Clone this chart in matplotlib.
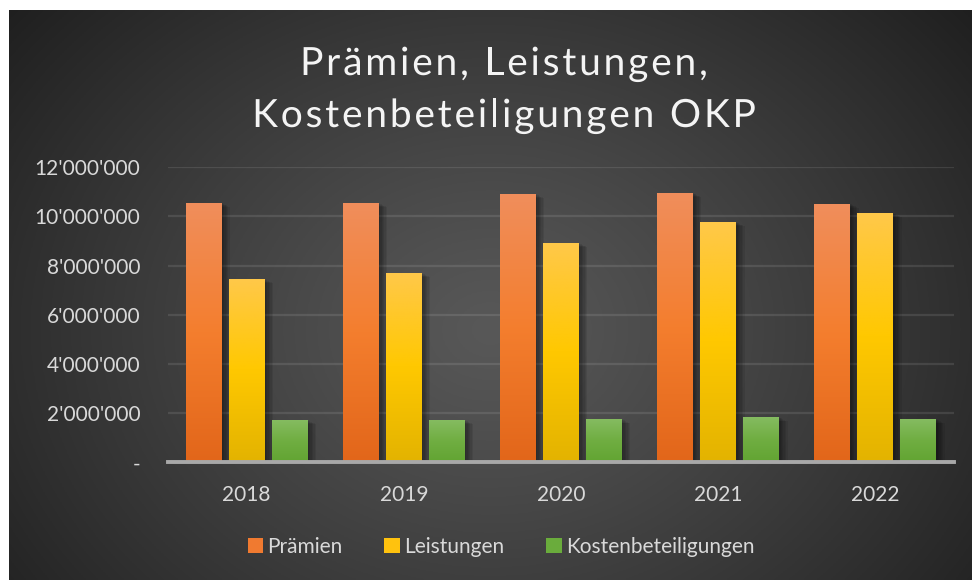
import numpy as np
import matplotlib
matplotlib.use("Agg")
import matplotlib.pyplot as plt
from matplotlib.colors import LinearSegmentedColormap
from matplotlib.ticker import FuncFormatter
from matplotlib.patches import Patch
import matplotlib.patheffects as pe

# data
years = ["2018", "2019", "2020", "2021", "2022"]
praemien = [10.56e6, 10.55e6, 10.92e6, 10.96e6, 10.52e6]
leistungen = [7.46e6, 7.70e6, 8.92e6, 9.78e6, 10.14e6]
kosten = [1.72e6, 1.72e6, 1.76e6, 1.84e6, 1.76e6]
series_names = ["Prämien", "Leistungen", "Kostenbeteiligungen"]
yticks = [0, 2e6, 4e6, 6e6, 8e6, 10e6, 12e6]
title_lines = ["Prämien, Leistungen,", "Kostenbeteiligungen OKP"]

# gradient stops per series: bottom, middle, top
grad_colors = [
    ["#e2661a", "#f47e2e", "#f08e5c"],
    ["#e3b300", "#ffc800", "#ffc84a"],
    ["#62a432", "#70ae42", "#86bc62"],
]
legend_colors = ["#f07a30", "#ffc20e", "#6aac3c"]

plt.rcParams['font.family'] = ['Lato', 'DejaVu Sans']
W, H = 972, 580
fig = plt.figure(figsize=(W / 100, H / 100), dpi=100)
fig.patch.set_facecolor("white")

# radial gradient background (chart area, white strip on top/left)
bg = fig.add_axes([9 / W, 0, (W - 9) / W, (H - 10) / H])
bg.set_axis_off()
gx = np.linspace(9, W, 400)
gy = np.linspace(10, H, 240)
GX, GY = np.meshgrid(gx, gy)
u = (GX - 490) / 520
v = (GY - 330) / 420
r = np.clip(np.sqrt(u ** 2 + v ** 2), 0, 1.2)
val = (88 - 46 * r ** 1.15) / 255.0
bg.imshow(np.dstack([val, val, val]), extent=[0, 1, 0, 1], aspect="auto", origin="upper")
bg.set_xlim(0, 1)
bg.set_ylim(0, 1)
bg.set_zorder(0)

ax = fig.add_axes([168 / W, (H - 462.3) / H, (954 - 168) / W, (462.3 - 167.3) / H])
ax.set_zorder(1)
ax.patch.set_alpha(0)

# soft shadow: several offset layers with low alpha
shadow_fx = [pe.SimplePatchShadow(offset=(o, -o * 0.5), shadow_rgbFace="black", alpha=0.08)
             for o in (1, 2, 3, 4, 5, 6)] + [pe.Normal()]

x = np.arange(len(years))
bw = 0.229
step = 0.274
all_series = [praemien, leistungen, kosten]
for i, vals in enumerate(all_series):
    cmap = LinearSegmentedColormap.from_list("g%d" % i, grad_colors[i])
    grad = np.linspace(0, 1, 256).reshape(-1, 1)
    bars = ax.bar(x + (i - 1) * step, vals, bw, color=grad_colors[i][1], zorder=3,
                  path_effects=shadow_fx)
    for b in bars:
        x0, w, h = b.get_x(), b.get_width(), b.get_height()
        im = ax.imshow(grad, cmap=cmap, origin="lower", aspect="auto",
                       extent=[x0, x0 + w, 0, h], zorder=4)
        im.set_clip_path(b)

ax.set_xlim(-0.5, len(years) - 0.5)
ax.set_ylim(0, 12e6)
ax.set_yticks(yticks)
ax.set_xticks(x)
ax.set_xticklabels(years)


def fmt(val, pos):
    if val == 0:
        return "-"
    return "{:,.0f}".format(val).replace(",", "'")


ax.yaxis.set_major_formatter(FuncFormatter(fmt))
ax.tick_params(axis="both", length=0, colors="#d9d9d9", labelsize=15)
ax.tick_params(axis="y", pad=20)
ax.tick_params(axis="x", pad=16)
for s in ax.spines.values():
    s.set_visible(False)
ax.grid(axis="y", color="#ffffff", alpha=0.1, linewidth=1.6, zorder=1)
ax.set_axisbelow(True)
ax.axhline(0, color="#a8a8a8", linewidth=2.8, zorder=5, clip_on=False)

# title with letter spacing, drawn char by char
renderer = fig.canvas.get_renderer()
title_size = 28
title_kw = dict(fontsize=title_size, color="#f4f4f4",
                path_effects=[pe.SimpleLineShadow(offset=(1.5, -1.5), alpha=0.6), pe.Normal()])
tracking = 2.8  # px between letters


def text_width(s):
    if not s:
        return 0.0
    t = fig.text(0, 0, s + "|", fontsize=title_size)
    w1 = t.get_window_extent(renderer).width
    t.set_text("|")
    w2 = t.get_window_extent(renderer).width
    t.remove()
    return w1 - w2


for line, yb in zip(title_lines, [75, 127]):
    total = text_width(line) + tracking * (len(line) - 1)
    x_start = 504 - total / 2
    for k, ch in enumerate(line):
        if ch == " ":
            continue
        xp = x_start + text_width(line[:k]) + tracking * k
        fig.text(xp / W, 1 - yb / H, ch, ha="left", va="baseline", **title_kw)

handles = [Patch(facecolor=c, edgecolor="none") for c in legend_colors]
leg = fig.legend(handles, series_names, loc="center", bbox_to_anchor=(501 / W, 1 - 547 / H),
                 ncol=3, frameon=False, fontsize=15, handlelength=0.75, handleheight=0.75,
                 handletextpad=0.2, columnspacing=2.0)
for t in leg.get_texts():
    t.set_color("#d9d9d9")

fig.savefig("out.png", dpi=100, facecolor=fig.get_facecolor())
